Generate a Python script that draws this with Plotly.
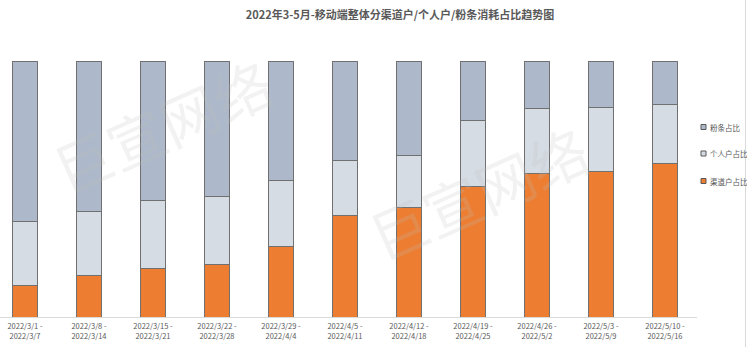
import plotly.graph_objects as go

categories = [
    "2022/3/1 -<br>2022/3/7", "2022/3/8 -<br>2022/3/14", "2022/3/15 -<br>2022/3/21",
    "2022/3/22 -<br>2022/3/28", "2022/3/29 -<br>2022/4/4", "2022/4/5 -<br>2022/4/11",
    "2022/4/12 -<br>2022/4/18", "2022/4/19 -<br>2022/4/25", "2022/4/26 -<br>2022/5/2",
    "2022/5/3 -<br>2022/5/9", "2022/5/10 -<br>2022/5/16",
]
channel_share = [0.122, 0.163, 0.190, 0.207, 0.275, 0.395, 0.429, 0.508, 0.561, 0.569, 0.599]
personal_share = [0.250, 0.248, 0.264, 0.262, 0.258, 0.216, 0.203, 0.258, 0.252, 0.248, 0.233]
fans_share = [round(1 - a - b, 3) for a, b in zip(channel_share, personal_share)]

series_names = ["渠道户占比", "个人户占比", "粉条占比"]
series_values = [channel_share, personal_share, fans_share]
colors = ["#ED7D31", "#D6DCE4", "#ADB9CA"]

title_text = "2022年3-5月-移动端整体分渠道户/个人户/粉条消耗占比趋势图"
watermark = "巨宣网络"

W, H = 747, 347
ML, MR, MT, MB = 0, 50, 61, 30
PW, PH = W - ML - MR, H - MT - MB

fig = go.Figure()
for name, vals, col in zip(series_names, series_values, colors):
    fig.add_trace(go.Bar(
        x=list(range(len(categories))), y=vals, name=name,
        marker=dict(color=col, line=dict(color="#707070", width=1)),
        width=0.39, showlegend=False,
    ))

def px_x(p):
    return (p - ML) / PW

def px_y(p):
    return (H - MB - p) / PH

shapes = []
annotations = []
# manual legend (top item = last series)
legend_y = [127, 153.5, 181]
for yy, name, col in zip(legend_y, series_names[::-1], colors[::-1]):
    shapes.append(dict(type="rect", xref="paper", yref="paper",
                       x0=px_x(701), x1=px_x(706), y0=px_y(yy + 2.5), y1=px_y(yy - 2.5),
                       fillcolor=col, line=dict(color="#595959", width=1)))
    annotations.append(dict(text=name, xref="paper", yref="paper", x=px_x(708), y=px_y(yy),
                            xanchor="left", yanchor="middle", showarrow=False,
                            font=dict(size=7.5, color="#595959", family="Noto Sans CJK SC")))

# right border line
shapes.append(dict(type="line", xref="paper", yref="paper",
                   x0=px_x(745.5), x1=px_x(745.5), y0=px_y(0), y1=px_y(347),
                   line=dict(color="#d9d9d9", width=1)))

# watermarks
for cx, cy in [(162, 125), (478, 192)]:
    annotations.append(dict(text=watermark, xref="paper", yref="paper", x=px_x(cx), y=px_y(cy),
                            xanchor="center", yanchor="middle", showarrow=False, textangle=-24,
                            font=dict(size=58, color="rgba(190,190,190,0.2)",
                                      family="Noto Sans CJK SC")))

fig.update_layout(
    width=W, height=H,
    margin=dict(l=ML, r=MR, t=MT, b=MB, pad=0),
    barmode="stack",
    plot_bgcolor="white", paper_bgcolor="white",
    title=dict(text="<b>" + title_text + "</b>", x=400 / W, xref="container", xanchor="center",
               y=1 - 15 / H, yref="container", yanchor="middle",
               font=dict(size=11, color="#595959", family="Noto Sans CJK SC")),
    xaxis=dict(tickmode="array", tickvals=list(range(len(categories))), ticktext=categories,
               range=[-0.39, -0.39 + PW / 64], showline=True, linecolor="#d9d9d9", linewidth=1,
               showgrid=False, ticks="", tickangle=0, ticklabelstandoff=2,
               tickfont=dict(size=7.5, color="#595959", family="Noto Sans CJK SC")),
    yaxis=dict(range=[0, 1], visible=False, showgrid=False),
    shapes=shapes, annotations=annotations,
    showlegend=False,
)

fig.write_html("out.html")
